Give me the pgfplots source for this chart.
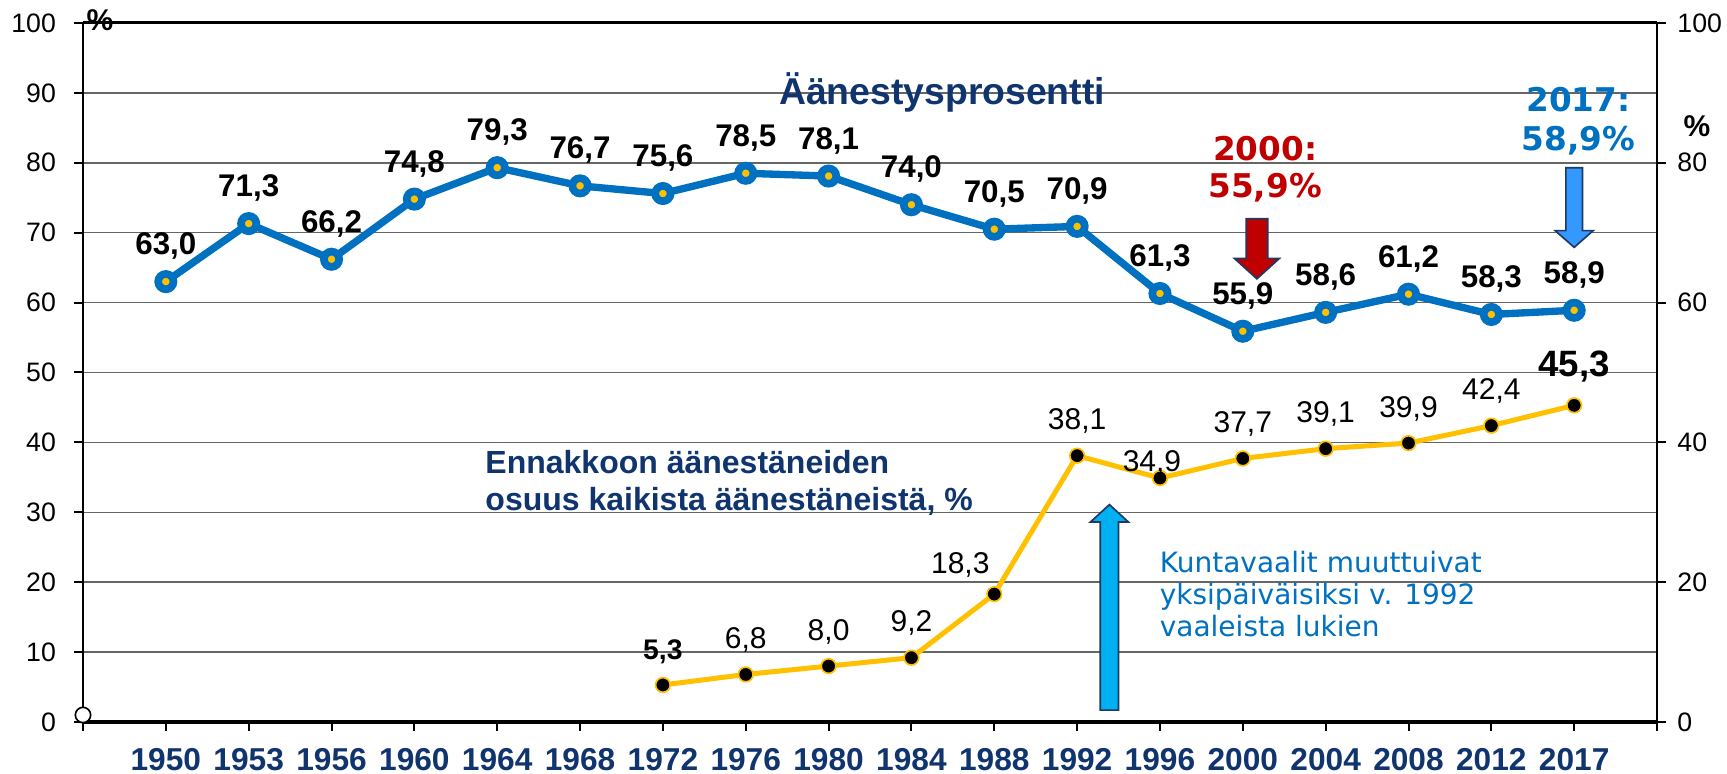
\documentclass[border=0pt]{standalone}
\usepackage{pgfplots}
\pgfplotsset{compat=1.18}
\usepackage{pgfplotstable}
\usepackage{fontspec}
\setmainfont{Liberation Sans}
\newfontfamily\dejavu{DejaVu Sans}
\definecolor{navy}{RGB}{16,52,110}
\definecolor{lineblue}{RGB}{0,112,192}
\definecolor{gold}{RGB}{255,192,0}
\definecolor{darkred}{RGB}{192,0,0}
\definecolor{arrowblue}{RGB}{51,153,255}
\definecolor{cyanarrow}{RGB}{0,176,240}
\definecolor{outline}{RGB}{31,56,100}

\pgfplotstableread{
x y label
1 63.0 63,0
2 71.3 71,3
3 66.2 66,2
4 74.8 74,8
5 79.3 79,3
6 76.7 76,7
7 75.6 75,6
8 78.5 78,5
9 78.1 78,1
10 74.0 74,0
11 70.5 70,5
12 70.9 70,9
13 61.3 61,3
14 55.9 55,9
15 58.6 58,6
16 61.2 61,2
17 58.3 58,3
18 58.9 58,9
}\turnout

\pgfplotstableread{
x y label
7 5.3 5,3
8 6.8 6,8
9 8.0 8,0
10 9.2 9,2
11 18.3 18,3
12 38.1 38,1
13 34.9 34,9
14 37.7 37,7
15 39.1 39,1
16 39.9 39,9
17 42.4 42,4
18 45.3 45,3
}\ennakko

\pgfplotstableread{
x y label
8 6.8 6,8
9 8.0 8,0
10 9.2 9,2
12 38.1 38,1
14 37.7 37,7
15 39.1 39,1
16 39.9 39,9
17 42.4 42,4
}\ennlabels

\begin{document}
\begin{tikzpicture}
\begin{axis}[
  at={(0,0)}, anchor=south west,
  width=472.2pt, height=209.7pt, scale only axis,
  xmin=0, xmax=19, ymin=0, ymax=100,
  clip=false,
  xtick={0,...,19},
  xticklabels={,1950,1953,1956,1960,1964,1968,1972,1976,1980,1984,1988,1992,1996,2000,2004,2008,2012,2017,},
  ytick={0,10,...,100},
  xtick pos=left, ytick pos=left,
  tick align=outside,
  major tick length=2.6pt,
  tick style={black, line width=0.6pt},
  ymajorgrids,
  major grid style={black!60, line width=0.45pt},
  axis line style={line width=0.7pt},
  /pgf/number format/assume math mode=true,
  tick label style={font=\fontsize{8}{9}\selectfont},
  yticklabel style={xshift=-2pt},
  xticklabel style={font=\bfseries\fontsize{9.5}{10}\selectfont, text=navy, yshift=-1.8pt},
]
\draw[line width=1.2pt] (rel axis cs:0,0) -- (rel axis cs:1,0);
\draw[line width=0.9pt] (rel axis cs:0,1) -- (rel axis cs:1,1);

% arrows
\filldraw[fill=darkred, draw=outline, line width=0.5pt]
  (axis cs:14.04,72.0) -- (axis cs:14.30,72.0) -- (axis cs:14.30,66.3) -- (axis cs:14.44,66.3)
  -- (axis cs:14.17,63.4) -- (axis cs:13.90,66.3) -- (axis cs:14.04,66.3) -- cycle;
\filldraw[fill=arrowblue, draw=outline, line width=0.5pt]
  (axis cs:17.90,79.3) -- (axis cs:18.10,79.3) -- (axis cs:18.10,70.3) -- (axis cs:18.23,70.3)
  -- (axis cs:18.00,67.9) -- (axis cs:17.77,70.3) -- (axis cs:17.90,70.3) -- cycle;
\filldraw[fill=cyanarrow, draw=outline, line width=0.5pt]
  (axis cs:12.28,1.7) -- (axis cs:12.50,1.7) -- (axis cs:12.50,28.6) -- (axis cs:12.62,28.6)
  -- (axis cs:12.39,31.1) -- (axis cs:12.16,28.6) -- (axis cs:12.28,28.6) -- cycle;

% turnout line
\addplot[color=lineblue, line width=2.2pt, mark=*, mark size=2.3pt,
  mark options={fill=gold, draw=lineblue, line width=2.3pt},
  nodes near coords, point meta=explicit symbolic,
  every node near coord/.append style={anchor=base, yshift=8.1pt, inner sep=0pt,
    font=\bfseries\fontsize{9.4}{10}\selectfont, text=black}]
  table[x=x, y=y, meta=label] {\turnout};

% advance voting line
\addplot[color=gold, line width=1.5pt, mark=*, mark size=2.2pt,
  mark options={fill=black, draw=gold, line width=0.5pt}]
  table[x=x, y=y] {\ennakko};

\addplot[draw=none, mark=none, nodes near coords, point meta=explicit symbolic,
  every node near coord/.append style={anchor=base, yshift=7.8pt, inner sep=0pt,
    font=\fontsize{9}{10}\selectfont, text=black}]
  table[x=x, y=y, meta=label] {\ennlabels};
\addplot[draw=none, mark=none, nodes near coords, point meta=explicit symbolic,
  every node near coord/.append style={anchor=base, yshift=7.5pt, inner sep=0pt,
    font=\bfseries\fontsize{8.5}{10}\selectfont, text=black}]
  coordinates {(7,5.3) [5,3]};
\addplot[draw=none, mark=none, nodes near coords, point meta=explicit symbolic,
  every node near coord/.append style={anchor=base, xshift=-10.2pt, yshift=6.3pt, inner sep=0pt,
    font=\fontsize{9}{10}\selectfont, text=black}]
  coordinates {(11,18.3) [18,3]};
\addplot[draw=none, mark=none, nodes near coords, point meta=explicit symbolic,
  every node near coord/.append style={anchor=base, xshift=-2.4pt, yshift=2.1pt, inner sep=0pt,
    font=\fontsize{9}{10}\selectfont, text=black}]
  coordinates {(13,34.9) [34,9]};
\addplot[draw=none, mark=none, nodes near coords, point meta=explicit symbolic,
  every node near coord/.append style={anchor=base, yshift=8.7pt, inner sep=0pt,
    font=\bfseries\fontsize{11}{12}\selectfont, text=black}]
  coordinates {(18,45.3) [45,3]};

% origin marker
\addplot[only marks, mark=*, mark size=2.3pt,
  mark options={fill=white, draw=black, line width=0.5pt}] coordinates {(0,1)};

% texts
\node[anchor=base, inner sep=0pt, font=\bfseries\fontsize{11.2}{13}\selectfont, text=navy]
  at (axis cs:10.37,88.4) {Äänestysprosentti};
\node[anchor=base, inner sep=0pt, font=\dejavu\bfseries\fontsize{9.8}{11}\selectfont, text=darkred]
  at (axis cs:14.27,80.3) {2000:};
\node[anchor=base, inner sep=0pt, font=\dejavu\bfseries\fontsize{9.8}{11}\selectfont, text=darkred]
  at (axis cs:14.27,75.0) {55,9\%};
\node[anchor=base, inner sep=0pt, font=\dejavu\bfseries\fontsize{9.8}{11}\selectfont, text=lineblue]
  at (axis cs:18.05,87.3) {2017:};
\node[anchor=base, inner sep=0pt, font=\dejavu\bfseries\fontsize{9.8}{11}\selectfont, text=lineblue]
  at (axis cs:18.05,81.7) {58,9\%};
\node[anchor=base west, inner sep=0pt, font=\bfseries\fontsize{9.6}{11}\selectfont, text=navy]
  at (axis cs:4.85,35.6) {Ennakkoon äänestäneiden};
\node[anchor=base west, inner sep=0pt, font=\bfseries\fontsize{9.6}{11}\selectfont, text=navy]
  at (axis cs:4.85,30.3) {osuus kaikista äänestäneistä, \%};
\node[anchor=base west, inner sep=0pt, font=\dejavu\fontsize{8.4}{10}\selectfont, text=lineblue]
  at (axis cs:12.99,21.4) {Kuntavaalit muuttuivat};
\node[anchor=base west, inner sep=0pt, font=\dejavu\fontsize{8.4}{10}\selectfont, text=lineblue]
  at (axis cs:12.99,16.8) {yksipäiväisiksi v. 1992};
\node[anchor=base west, inner sep=0pt, font=\dejavu\fontsize{8.4}{10}\selectfont, text=lineblue]
  at (axis cs:12.99,12.2) {vaaleista lukien};
\node[inner sep=0pt, font=\bfseries\fontsize{9}{10}\selectfont] at (rel axis cs:0.0108,1.004) {\%};
\node[inner sep=0pt, font=\bfseries\fontsize{9}{10}\selectfont] at (rel axis cs:1.0254,0.8526) {\%};
\end{axis}

\begin{axis}[
  at={(0,0)}, anchor=south west,
  width=472.2pt, height=209.7pt, scale only axis,
  xmin=0, xmax=19, ymin=0, ymax=100,
  axis x line=none, axis y line*=right,
  ytick={0,20,...,100},
  tick align=outside,
  major tick length=2.6pt,
  tick style={black, line width=0.6pt},
  axis line style={line width=0.7pt},
  /pgf/number format/assume math mode=true,
  tick label style={font=\fontsize{8}{9}\selectfont},
]
\addplot[draw=none] coordinates {(0,0)};
\end{axis}
\pgfresetboundingbox
\path (-24.9pt,-15.6pt) rectangle (493.2pt,216.6pt);
\end{tikzpicture}
\end{document}
